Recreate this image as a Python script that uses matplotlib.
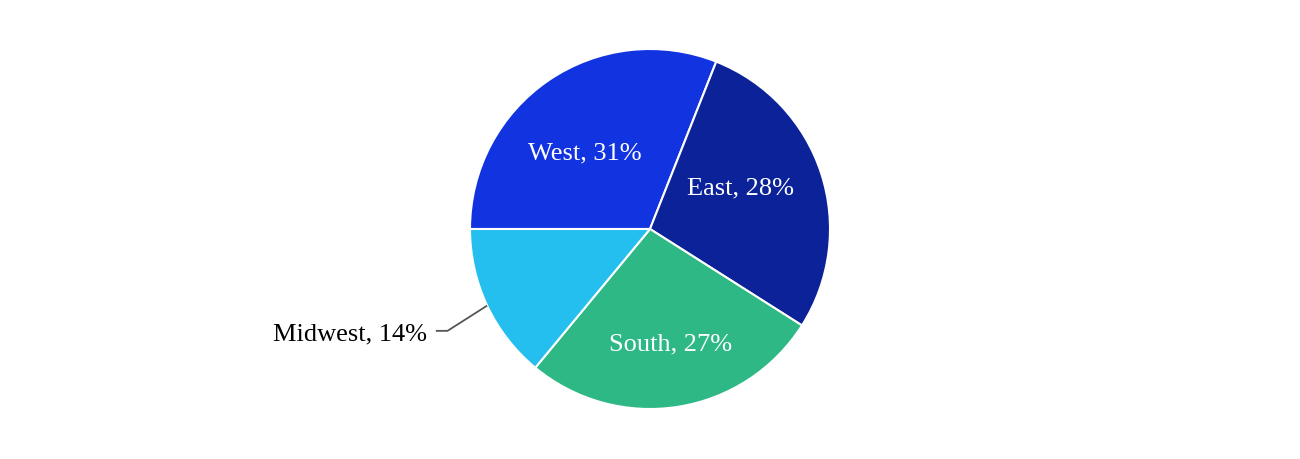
import numpy as np
import matplotlib.pyplot as plt

regions = ['West', 'East', 'South', 'Midwest']
shares = [31, 28, 27, 14]
colors = ['#1233e0', '#0b2299', '#2db885', '#24bfef']

plt.rcParams['font.family'] = ['Liberation Serif', 'DejaVu Serif']

fig = plt.figure(figsize=(13, 4.6), dpi=100)
ax = fig.add_axes([470 / 1300, 50 / 460, 360 / 1300, 360 / 460])

wedges, _ = ax.pie(shares, colors=colors, startangle=180, counterclock=False,
                   radius=1, wedgeprops=dict(edgecolor='white', linewidth=1.5))
ax.set_xlim(-1, 1)
ax.set_ylim(-1, 1)

# inside label spots (fraction of radius)
label_spot = {'West': (-0.36, 0.44), 'East': (0.505, 0.245), 'South': (0.115, -0.62)}
for w, name, val in zip(wedges, regions, shares):
    txt = f'{name}, {val}%'
    if name in label_spot:
        x, y = label_spot[name]
        ax.text(x, y, txt, color='white', ha='center', va='center_baseline',
                fontsize=19)
    else:
        mid = np.deg2rad((w.theta1 + w.theta2) / 2)
        x0, y0 = np.cos(mid), np.sin(mid)
        x1, y1 = x0 - 0.22, y0 - 0.14
        x2 = x1 - 0.065
        ax.plot([x0, x1, x2], [y0, y1, y1], color='#555555', lw=1.3,
                clip_on=False, solid_capstyle='butt')
        ax.text(x2 - 0.05, y1, txt, color='black', ha='right',
                va='center_baseline', fontsize=19)

fig.savefig('out.png', dpi=100)
